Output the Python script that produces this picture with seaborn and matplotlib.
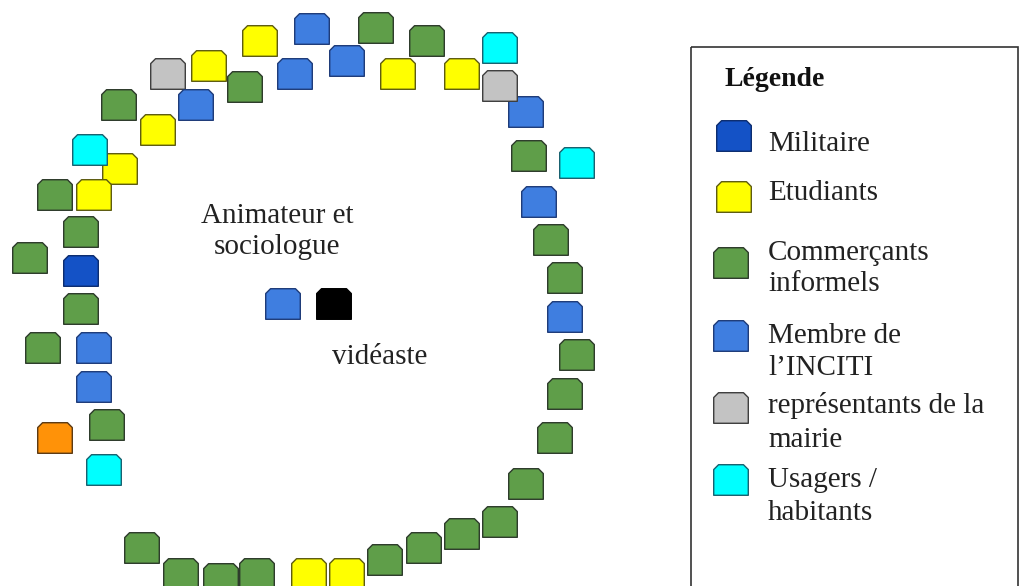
import numpy as np
import pandas as pd
import matplotlib.pyplot as plt
from matplotlib.path import Path
from matplotlib.patches import Rectangle
import seaborn as sns

# Seat plan (pixel coordinates of each seat centre)
seat_x = [260, 312, 347, 168, 209, 245, 295, 119, 196, 158, 120, 90, 94, 55,
          81, 30, 81, 81, 43, 94, 94, 107, 55, 104,
          142, 181, 221, 257, 309, 347, 385, 424, 462, 500, 526, 555, 565,
          577, 565, 565, 551, 539, 529, 577, 526, 500, 500, 462, 398, 427,
          376, 283, 334]
seat_y = [41, 29, 61, 74, 66, 87, 74, 105, 105, 130, 169, 150, 195, 195,
          232, 258, 271, 309, 348, 348, 387, 425, 438, 470,
          548, 574, 579, 574, 574, 574, 560, 548, 534, 522, 484, 438, 394,
          355, 317, 278, 240, 202, 156, 163, 112, 48, 86, 74, 74, 41,
          28, 304, 304]
seat_role = ["E", "I", "I", "R", "E", "C", "I", "C", "I", "E", "E", "U", "E", "C",
             "C", "C", "M", "C", "C", "I", "I", "C", "O", "U",
             "C", "C", "C", "C", "E", "E", "C", "C", "C", "C", "C", "C", "C",
             "C", "I", "C", "C", "I", "C", "U", "I", "U", "R", "E", "E", "C",
             "C", "I", "V"]

legend_roles = ["M", "E", "C", "I", "R", "U"]
legend_labels = [["Militaire"], ["Etudiants"], ["Commerçants", "informels"],
                 ["Membre de", "l’INCITI"], ["représentants de la", "mairie"],
                 ["Usagers /", "habitants"]]

face = {"M": "#1452c6", "E": "#ffff00", "C": "#5f9e49", "I": "#3f7ee0",
        "R": "#c3c3c3", "U": "#00ffff", "O": "#ff9208", "V": "#000000"}
edge = {"M": "#0b2b6e", "E": "#5c5a10", "C": "#2c3a2a", "I": "#1d3a78",
        "R": "#3d3d3d", "U": "#17606e", "O": "#5a3812", "V": "#000000"}

seats = pd.DataFrame({"x": seat_x, "y": seat_y, "role": seat_role})

# seat shape: rectangle with the two top corners cut
h, c = 0.884, 0.28
seat_marker = Path([(-1, -h), (1, -h), (1, h - c), (1 - c, h), (-1 + c, h),
                    (-1, h - c), (-1, -h)], closed=True)

sns.set_theme(style="white")
plt.rcParams["font.family"] = ["Liberation Serif", "DejaVu Serif"]

fig = plt.figure(figsize=(10.19, 5.86), dpi=100)
ax = fig.add_axes([0, 0, 1, 1])
ax.set_xlim(0, 1019)
ax.set_ylim(586, 0)
ax.axis("off")

sns.scatterplot(data=seats, x="x", y="y", hue="role", palette=face,
                marker=seat_marker, s=620, linewidth=1, legend=False, ax=ax)
ax.collections[0].set_edgecolor([edge[r] for r in seats["role"]])

ax.text(277, 223, "Animateur et", ha="center", va="baseline", fontsize=21, color="#222222")
ax.text(277, 254, "sociologue", ha="center", va="baseline", fontsize=21, color="#222222")
ax.text(332, 364, "vidéaste", ha="left", va="baseline", fontsize=21, color="#222222")

# legend box
ax.add_patch(Rectangle((691, 47), 327, 600, fill=False, edgecolor="#333333", lw=1.2))
ax.text(725, 86, "Légende", ha="left", va="baseline", fontsize=20,
        fontweight="bold", color="#111111")

icon_x = [734, 734, 731, 731, 731, 731]
icon_y = [136, 197, 263, 336, 408, 480]
text_y = [[151], [200], [260, 291], [343, 375], [413, 447], [487, 520]]
ax.scatter(icon_x, icon_y, marker=seat_marker, s=620, linewidth=1,
           c=[face[r] for r in legend_roles],
           edgecolors=[edge[r] for r in legend_roles])
for lines, ys in zip(legend_labels, text_y):
    for line, yy in zip(lines, ys):
        ax.text(768, yy, line, ha="left", va="baseline", fontsize=21, color="#222222")

fig.savefig("out.png", dpi=100)
